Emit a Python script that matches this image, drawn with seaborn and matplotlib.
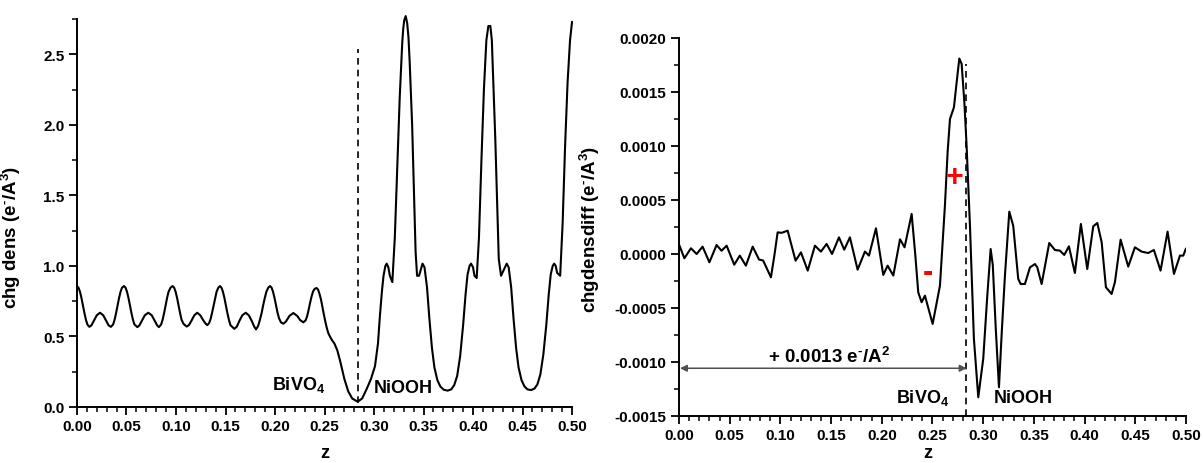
import matplotlib
matplotlib.use("Agg")
import matplotlib.pyplot as plt
import seaborn as sns
import numpy as np
from matplotlib.ticker import MultipleLocator, FormatStrFormatter

# ---------------- data ----------------
z_dens = [0.000, 0.0015, 0.003, 0.0045, 0.006, 0.0075, 0.009, 0.0105, 0.0125, 0.0145, 0.017, 0.0200, 0.0232,
          0.0265, 0.0295, 0.032, 0.0343, 0.0365, 0.038, 0.0395, 0.041, 0.0425, 0.044, 0.0455,
          0.0475, 0.049, 0.0505, 0.052, 0.0535, 0.055, 0.0565, 0.058, 0.061, 0.063, 0.0655, 0.0685, 0.072,
          0.0755, 0.0785, 0.081, 0.0828, 0.085, 0.0865, 0.088, 0.0895, 0.091, 0.0925, 0.0945,
          0.0966, 0.0981, 0.0996, 0.1011, 0.1026, 0.1041, 0.1056, 0.1075, 0.1108, 0.113, 0.1155, 0.1185, 0.1215,
          0.1245, 0.1275, 0.1300, 0.1316, 0.1335, 0.135, 0.1365, 0.138, 0.1395, 0.141, 0.1428,
          0.1444, 0.1459, 0.1474, 0.1489, 0.1504, 0.1519, 0.1534, 0.155, 0.1589, 0.1615, 0.164, 0.167, 0.1704,
          0.1735, 0.1765, 0.179, 0.1808, 0.183, 0.1848, 0.1865, 0.188, 0.1897, 0.1913, 0.1932,
          0.195, 0.1965, 0.198, 0.1995, 0.201, 0.2025, 0.204, 0.206, 0.2084, 0.211, 0.2145, 0.2185, 0.2225,
          0.2255, 0.2286, 0.231, 0.2325, 0.234, 0.2355, 0.237, 0.2385, 0.2402,
          0.242, 0.2435, 0.245, 0.2465, 0.248, 0.2495, 0.251, 0.2525, 0.254, 0.257, 0.260, 0.263, 0.266, 0.270,
          0.274, 0.278, 0.2835,
          0.288, 0.2926, 0.297, 0.301, 0.304, 0.306, 0.308, 0.3096, 0.3115, 0.3128, 0.3145, 0.316, 0.3185,
          0.321, 0.3235, 0.326, 0.3285, 0.3295, 0.3305, 0.332, 0.3335, 0.3348, 0.336, 0.3385, 0.3405, 0.342,
          0.3435, 0.3455,
          0.349, 0.351, 0.3535, 0.356, 0.3585, 0.361, 0.364, 0.367, 0.3705, 0.3744, 0.378, 0.381, 0.384, 0.387,
          0.390, 0.3925, 0.3945, 0.3965, 0.398, 0.400, 0.4015, 0.4037, 0.406, 0.4085, 0.411, 0.4135, 0.4155,
          0.4175, 0.4190, 0.420, 0.4225, 0.4245, 0.426, 0.4283, 0.431, 0.434, 0.436, 0.4385, 0.441, 0.4435, 0.446,
          0.449, 0.452, 0.455, 0.4586, 0.462, 0.465, 0.468, 0.471, 0.474, 0.4765, 0.4785, 0.4805, 0.482, 0.4835,
          0.485, 0.488, 0.4905, 0.493, 0.4955, 0.498, 0.500]
chg_dens = [0.857, 0.846, 0.817, 0.773, 0.72, 0.666, 0.619, 0.585, 0.568, 0.578, 0.61, 0.65, 0.668,
            0.65, 0.61, 0.578, 0.568, 0.585, 0.619, 0.666, 0.72, 0.773, 0.817, 0.846,
            0.857, 0.846, 0.817, 0.773, 0.72, 0.666, 0.619, 0.585, 0.566, 0.578, 0.61, 0.65, 0.668,
            0.65, 0.61, 0.578, 0.566, 0.585, 0.619, 0.666, 0.72, 0.773, 0.817, 0.846,
            0.857, 0.846, 0.817, 0.773, 0.72, 0.666, 0.619, 0.59, 0.57, 0.58, 0.61, 0.65, 0.668,
            0.65, 0.615, 0.59, 0.58, 0.595, 0.625, 0.67, 0.72, 0.773, 0.817, 0.846,
            0.857, 0.846, 0.817, 0.773, 0.72, 0.666, 0.619, 0.58, 0.554, 0.57, 0.61, 0.65, 0.668,
            0.65, 0.61, 0.57, 0.55, 0.575, 0.619, 0.666, 0.72, 0.773, 0.817, 0.846,
            0.857, 0.846, 0.817, 0.773, 0.72, 0.67, 0.63, 0.60, 0.59, 0.605, 0.645, 0.666, 0.645,
            0.615, 0.60, 0.615, 0.645, 0.69, 0.74, 0.785, 0.82, 0.838,
            0.843, 0.832, 0.80, 0.76, 0.705, 0.65, 0.60, 0.555, 0.52, 0.48, 0.45, 0.40, 0.32, 0.20,
            0.11, 0.06, 0.038,
            0.06, 0.128, 0.20, 0.29, 0.45, 0.65, 0.82, 0.93, 1.00, 1.016, 0.99, 0.93, 0.885,
            1.20, 1.70, 2.20, 2.58, 2.68, 2.74, 2.77, 2.72, 2.62, 2.45, 2.00, 1.50, 1.10,
            0.93, 0.93,
            1.016, 0.99, 0.85, 0.62, 0.42, 0.28, 0.19, 0.145, 0.122, 0.116, 0.125, 0.155, 0.22, 0.36,
            0.58, 0.80, 0.94, 1.00, 1.016, 0.99, 0.93, 0.914, 1.20, 1.75, 2.25, 2.60, 2.70,
            2.70, 2.60, 2.40, 1.90, 1.40, 1.05, 0.93, 0.97, 1.016, 0.99, 0.85, 0.62, 0.42, 0.28,
            0.19, 0.145, 0.125, 0.12, 0.13, 0.16, 0.23, 0.37, 0.58, 0.80, 0.94, 1.00, 1.016, 1.00,
            0.95, 0.93, 1.30, 1.85, 2.30, 2.60, 2.73]

z_diff = [0.000, 0.0053, 0.0118, 0.0174, 0.0233, 0.0300, 0.0371, 0.0420, 0.0470, 0.0545, 0.0600, 0.0660,
          0.0727, 0.0790, 0.0830, 0.0907, 0.0940, 0.0973, 0.1013, 0.1072, 0.1110, 0.1150, 0.1203, 0.1270,
          0.1341, 0.1400, 0.1456, 0.1510, 0.1578, 0.1630, 0.1686, 0.1762, 0.1834, 0.1874, 0.1943, 0.2015,
          0.2058, 0.2114, 0.2180, 0.2225, 0.2295, 0.2330, 0.2360, 0.2393, 0.2426, 0.2502, 0.2574, 0.2623,
          0.2650, 0.2673, 0.2712, 0.2740, 0.2765, 0.2788, 0.2815, 0.2837, 0.2870, 0.2909, 0.2952, 0.3001,
          0.3040, 0.3074, 0.3095, 0.3125, 0.3156, 0.3185, 0.3215, 0.3258, 0.3297, 0.3346, 0.3370, 0.3412,
          0.3462, 0.3511, 0.3534, 0.3577, 0.3652, 0.3708, 0.3757, 0.3800, 0.3846, 0.3905, 0.3964, 0.4027,
          0.4086, 0.4126, 0.4169, 0.4211, 0.4267, 0.4300, 0.4356, 0.4431, 0.4497, 0.4563, 0.4628, 0.4684,
          0.4750, 0.4819, 0.4882, 0.4941, 0.4974, 0.5000]
chg_diff = [0.00009, -0.00004, 0.000053, 0.0, 0.000068, -0.000077, 0.000083, 0.00003, 0.000077, -0.000099,
            -0.000015, -0.000108, 0.000068, -0.000052, -0.00006, -0.000216, -0.00002, 0.0002, 0.000196,
            0.000216, 0.00008, -0.000062, 0.000015, -0.000154, 0.000077, 0.000022, 0.000093, 0.0, 0.000154,
            0.00004, 0.000154, -0.000145, 0.000022, -0.000015, 0.000238, -0.000194, -0.000108, -0.0002,
            0.000136, 0.000062, 0.00037, 0.0, -0.000355, -0.000447, -0.000386, -0.000648, -0.000293,
            0.000447, 0.00095, 0.00125, 0.001358, 0.0016, 0.00181, 0.00176, 0.0014, 0.001, 0.00026,
            -0.000787, -0.001327, -0.00097, -0.0004, 0.000046, -0.0001, -0.0007, -0.001234, -0.0007,
            -0.0002, 0.000392, 0.00026, -0.00023, -0.000278, -0.000278, -0.000124, -0.000093, -0.000124,
            -0.000278, 0.000102, 0.000037, 0.000031, -0.000009, 0.000071, -0.000176, 0.000278, -0.000139,
            0.000256, 0.000287, 0.000108, -0.000308, -0.00037, -0.00026, 0.000133, -0.000117, 0.000062,
            0.000022, 0.000009, 0.000037, -0.000154, 0.000207, -0.000185, -0.000015, -0.000015, 0.00005]

interface_left = 0.2835
interface_right = 0.283
HY = "\u2010"  # short hyphen used as superscript minus
transfer_text = "+ 0.0013 e$^{" + HY + "}$/A$^{2}$"
ylabel_left = "chg dens (e$^{" + HY + "}$/A$^{3}$)"
ylabel_right = "chgdensdiff (e$^{" + HY + "}$/A$^{3}$)"

# ---------------- style ----------------
sns.set_theme(style="ticks")
plt.rcParams['font.family'] = ['Liberation Sans', 'DejaVu Sans']
plt.rcParams['font.weight'] = 'bold'
plt.rcParams['axes.labelweight'] = 'bold'
plt.rcParams['text.color'] = 'black'
plt.rcParams['axes.labelcolor'] = 'black'
plt.rcParams['xtick.color'] = 'black'
plt.rcParams['ytick.color'] = 'black'
plt.rcParams['mathtext.fontset'] = 'custom'
plt.rcParams['mathtext.rm'] = 'Liberation Sans:bold'
plt.rcParams['mathtext.bf'] = 'Liberation Sans:bold'
plt.rcParams['mathtext.it'] = 'Liberation Sans:bold'
plt.rcParams['mathtext.default'] = 'rm'
plt.rcParams['axes.unicode_minus'] = False

fig = plt.figure(figsize=(12.03, 4.64), dpi=100)
ax1 = fig.add_axes([0.064, 0.1207, 0.4115, 0.8363])
ax2 = fig.add_axes([0.5644, 0.1013, 0.4214, 0.8147])

def style_axes(ax):
    for s in ['top', 'right']:
        ax.spines[s].set_visible(False)
    for s in ['left', 'bottom']:
        ax.spines[s].set_linewidth(1.4)
        ax.spines[s].set_color('black')
    ax.tick_params(which='major', direction='out', length=6, width=1.3, labelsize=11, colors='black', pad=3)
    ax.tick_params(which='minor', direction='out', length=3.5, width=1.1, colors='black')
    ax.xaxis.set_major_locator(MultipleLocator(0.05))
    ax.xaxis.set_minor_locator(MultipleLocator(0.01))
    ax.xaxis.set_major_formatter(FormatStrFormatter('%.2f'))
    ax.set_xlim(0, 0.5)
    ax.set_facecolor('white')
    for lab in ax.get_xticklabels() + ax.get_yticklabels():
        lab.set_fontweight('bold')

# ---- left panel
sns.lineplot(x=z_dens, y=chg_dens, ax=ax1, color='black', linewidth=1.5, estimator=None)
ax1.lines[0].set_clip_on(False)
ax1.lines[0].set_solid_joinstyle('round')
ax1.set_ylim(0, 2.75)
ax1.yaxis.set_major_locator(MultipleLocator(0.5))
ax1.yaxis.set_minor_locator(MultipleLocator(0.25))
ax1.yaxis.set_major_formatter(FormatStrFormatter('%.1f'))
style_axes(ax1)
ax1.plot([interface_left, interface_left], [0.03, 2.54], color='black', lw=1.2, ls=(0, (4, 3)))
ax1.text(0.197, 0.165, r"BiVO$_{4}$", fontsize=13, fontweight='bold', ha='left', va='center')
ax1.text(0.300, 0.14, "NiOOH", fontsize=13, fontweight='bold', ha='left', va='center')
ax1.set_xlabel("z", fontsize=13, fontweight='bold')
ax1.set_ylabel(ylabel_left, fontsize=13.5, fontweight='bold')
ax1.xaxis.set_label_coords(0.5, -0.095)
ax1.yaxis.set_label_coords(-0.109, 0.44)

# ---- right panel
sns.lineplot(x=z_diff, y=chg_diff, ax=ax2, color='black', linewidth=1.5, estimator=None)
ax2.lines[0].set_solid_joinstyle('round')
ax2.set_ylim(-0.0015, 0.002)
ax2.yaxis.set_major_locator(MultipleLocator(0.0005))
ax2.yaxis.set_minor_locator(MultipleLocator(0.00025))
ax2.yaxis.set_major_formatter(FormatStrFormatter('%.4f'))
style_axes(ax2)
ax2.plot([interface_right, interface_right], [-0.0015, 0.00176], color='black', lw=1.2, ls=(0, (4, 3)))
ax2.annotate('', xy=(0.001, -0.001058), xytext=(0.2837, -0.001058),
             arrowprops=dict(arrowstyle='<|-|>', color='#505050', lw=1.1, mutation_scale=10,
                             shrinkA=0, shrinkB=0))
ax2.text(0.148, -0.00094, transfer_text, fontsize=13.5, fontweight='bold', ha='center', va='center')
ax2.text(0.2406, -0.001327, r"BiVO$_{4}$", fontsize=13, fontweight='bold', ha='center', va='center')
ax2.text(0.340, -0.001327, "NiOOH", fontsize=13, fontweight='bold', ha='center', va='center')
ax2.text(0.245, -0.00017, "-", fontsize=22, fontweight='bold', color='#ff0000', ha='center', va='center')
ax2.text(0.272, 0.00071, "+", fontsize=22, fontweight='bold', color='#ff0000', ha='center', va='center')
ax2.set_xlabel("z", fontsize=13, fontweight='bold')
ax2.set_ylabel(ylabel_right, fontsize=13.5, fontweight='bold')
ax2.xaxis.set_label_coords(0.49, -0.075)
ax2.yaxis.set_label_coords(-0.152, 0.495)

fig.savefig("out.png", dpi=100, facecolor='white')
